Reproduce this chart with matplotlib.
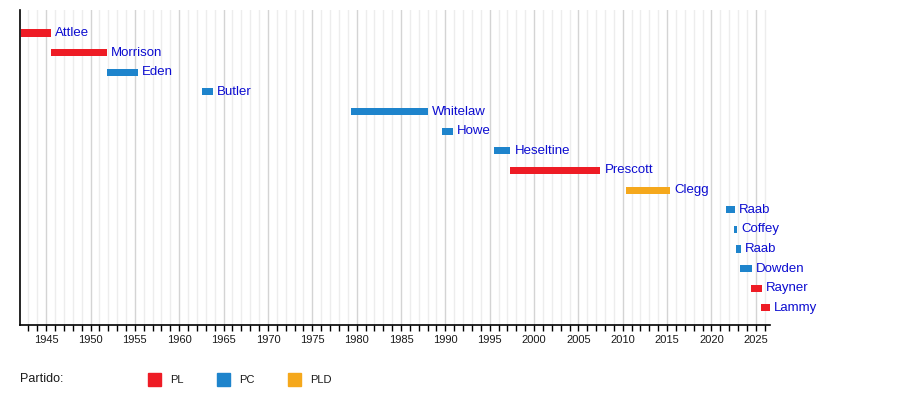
import matplotlib
matplotlib.use('Agg')
import matplotlib.pyplot as plt
from matplotlib.patches import Rectangle
from matplotlib.ticker import MultipleLocator

plt.rcParams['font.family'] = ['Liberation Sans', 'DejaVu Sans']

# vice primeiros-ministros (inicio, fim em anos decimais)
names = ['Attlee', 'Morrison', 'Eden', 'Butler', 'Whitelaw', 'Howe', 'Heseltine',
         'Prescott', 'Clegg', 'Raab', 'Coffey', 'Raab', 'Dowden', 'Rayner', 'Lammy']
starts = [1942.13, 1945.57, 1951.82, 1962.53, 1979.34, 1989.57, 1995.54,
          1997.34, 2010.36, 2021.66, 2022.55, 2022.80, 2023.25, 2024.51, 2025.62]
ends = [1945.57, 1951.82, 1955.35, 1963.80, 1988.03, 1990.89, 1997.34,
        2007.49, 2015.35, 2022.68, 2022.90, 2023.36, 2024.60, 2025.70, 2026.6]
parties = ['PL', 'PL', 'PC', 'PC', 'PC', 'PC', 'PC',
           'PL', 'PLD', 'PC', 'PC', 'PC', 'PC', 'PL', 'PL']

party_names = ['PL', 'PC', 'PLD']
party_colors = {'PL': '#ee1c25', 'PC': '#1e84cc', 'PLD': '#f5a81c'}

fig = plt.figure(figsize=(9, 4.05), dpi=100)
ax = fig.add_axes([20/900, 80/405, 750/900, 315/405])

for i, (n, s, e, p) in enumerate(zip(names, starts, ends, parties)):
    ax.barh(i, e - s, left=s, height=0.36, color=party_colors[p], zorder=3)
    ax.text(e + 0.45, i, n, color='#0c0cd0', fontsize=9.5, va='center', ha='left', zorder=4)

ax.set_xlim(1942.05, 2026.6)
ax.set_ylim(14.87, -1.17)

ax.xaxis.set_major_locator(MultipleLocator(5))
ax.xaxis.set_minor_locator(MultipleLocator(1))
ax.grid(which='major', axis='x', color='#d4d4d4', linewidth=1, zorder=0)
ax.grid(which='minor', axis='x', color='#ededed', linewidth=1, zorder=0)
ax.set_axisbelow(True)
ax.set_yticks([])
ax.tick_params(axis='x', which='both', direction='out', length=4, width=1,
               labelsize=8, labelcolor='#1a1a1a', pad=3)
for sp in ['top', 'right']:
    ax.spines[sp].set_visible(False)
for sp in ['left', 'bottom']:
    ax.spines[sp].set_linewidth(1.2)

# legenda
fig.text(20/900, 1 - 379/405, 'Partido:', fontsize=9, va='center', ha='left', color='#1a1a1a')
leg_x = [148, 217, 288]
for x, p in zip(leg_x, party_names):
    fig.patches.append(Rectangle((x/900, 1 - 386/405), 13/900, 13/405,
                                 transform=fig.transFigure, color=party_colors[p]))
    fig.text((x + 22)/900, 1 - 380/405, p, fontsize=8, va='center', ha='left', color='#1a1a1a')

fig.savefig('out.png', dpi=100)
